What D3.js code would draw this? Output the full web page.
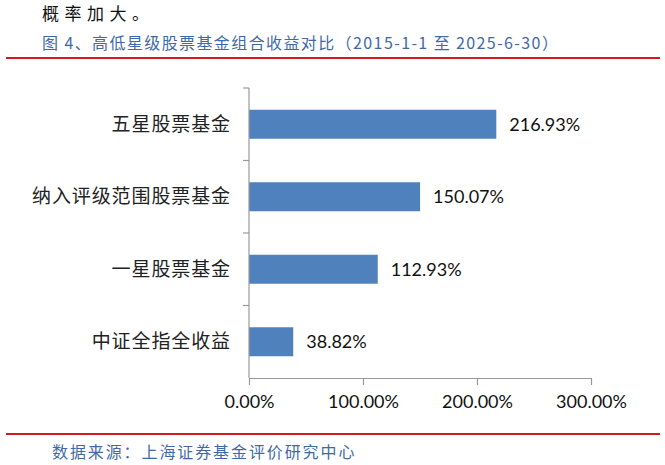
<!DOCTYPE html>
<html>
<head>
<meta charset="utf-8">
<script src="https://cdn.jsdelivr.net/npm/d3@7"></script>
<style>
  body { margin: 0; background: #fff; }
  svg { display: block; }
</style>
</head>
<body>
<div id="chart"></div>
<script>
var categories = ['五星股票基金', '纳入评级范围股票基金', '一星股票基金', '中证全指全收益'];
var returns = [216.93, 150.07, 112.93, 38.82];
var xTicks = [0, 100, 200, 300];

var W = 665, H = 465;
var svg = d3.select('#chart').append('svg')
  .attr('width', W)
  .attr('height', H);

var cjk = '"Noto Sans CJK SC", sans-serif';
var num = 'Lato, "Liberation Sans", sans-serif';

// header
svg.append('text')
  .attr('x', 42).attr('y', 20)
  .attr('font-family', cjk).attr('font-size', 17)
  .attr('letter-spacing', 5.5)
  .attr('fill', '#111')
  .text('概率加大。');
svg.append('text')
  .attr('x', 42).attr('y', 49)
  .attr('font-family', cjk).attr('font-size', 16)
  .attr('letter-spacing', 1.4)
  .attr('fill', '#3f6aa6')
  .text('图 4、高低星级股票基金组合收益对比（2015-1-1 至 2025-6-30）');
svg.append('line')
  .attr('x1', 6).attr('x2', 660).attr('y1', 58).attr('y2', 58)
  .attr('stroke', '#d7191c').attr('stroke-width', 2);

// footer
svg.append('line')
  .attr('x1', 6).attr('x2', 660).attr('y1', 434).attr('y2', 434)
  .attr('stroke', '#d7191c').attr('stroke-width', 2);
svg.append('text')
  .attr('x', 52).attr('y', 458)
  .attr('font-family', cjk).attr('font-size', 16)
  .attr('letter-spacing', 1.9)
  .attr('fill', '#3f6aa6')
  .text('数据来源：上海证券基金评价研究中心');

var x = d3.scaleLinear().domain([0, 300]).range([249, 591]);
var y = d3.scaleBand().domain(categories).range([88, 378]).paddingInner(0.6).paddingOuter(0.3);

var g = svg.append('g');

// bars
g.selectAll('rect.bar')
  .data(categories)
  .enter().append('rect')
  .attr('class', 'bar')
  .attr('x', x(0))
  .attr('y', function(d) { return y(d); })
  .attr('width', function(d, i) { return x(returns[i]) - x(0); })
  .attr('height', y.bandwidth())
  .attr('fill', '#4f81bd');

// value labels
g.selectAll('text.val')
  .data(categories)
  .enter().append('text')
  .attr('class', 'val')
  .attr('x', function(d, i) { return x(returns[i]) + 13; })
  .attr('y', function(d) { return y(d) + y.bandwidth() / 2; })
  .attr('dy', '0.35em')
  .attr('font-family', num).attr('font-size', 18)
  .attr('fill', '#111')
  .text(function(d, i) { return returns[i].toFixed(2) + '%'; });

// category labels
g.selectAll('text.cat')
  .data(categories)
  .enter().append('text')
  .attr('class', 'cat')
  .attr('x', 231)
  .attr('y', function(d) { return y(d) + y.bandwidth() / 2; })
  .attr('dy', '0.35em')
  .attr('text-anchor', 'end')
  .attr('font-family', cjk).attr('font-size', 19)
  .attr('letter-spacing', 0.9)
  .attr('fill', '#222')
  .text(function(d) { return d; });

// y axis with band-boundary ticks
var bounds = d3.range(categories.length + 1).map(function(i) { return 88 + i * (290 / categories.length); });
g.append('line')
  .attr('x1', x(0)).attr('x2', x(0)).attr('y1', 88).attr('y2', 378)
  .attr('stroke', '#999').attr('stroke-width', 1.2);
g.selectAll('line.ytick')
  .data(bounds.slice(0, -1))
  .enter().append('line')
  .attr('class', 'ytick')
  .attr('x1', x(0) - 6).attr('x2', x(0))
  .attr('y1', function(d) { return d; }).attr('y2', function(d) { return d; })
  .attr('stroke', '#999').attr('stroke-width', 1.2);

// x axis
var xAxis = d3.axisBottom(x)
  .tickValues(xTicks)
  .tickSize(7)
  .tickSizeOuter(0)
  .tickFormat(function(d) { return d.toFixed(2) + '%'; });
var ax = svg.append('g')
  .attr('transform', 'translate(0,378)')
  .call(xAxis);
ax.select('.domain').attr('stroke', '#999').attr('stroke-width', 1.2);
ax.selectAll('.tick line').attr('stroke', '#999').attr('stroke-width', 1.2);
ax.selectAll('.tick text')
  .attr('y', 17)
  .attr('font-family', num).attr('font-size', 18)
  .attr('fill', '#111');
</script>
</body>
</html>
